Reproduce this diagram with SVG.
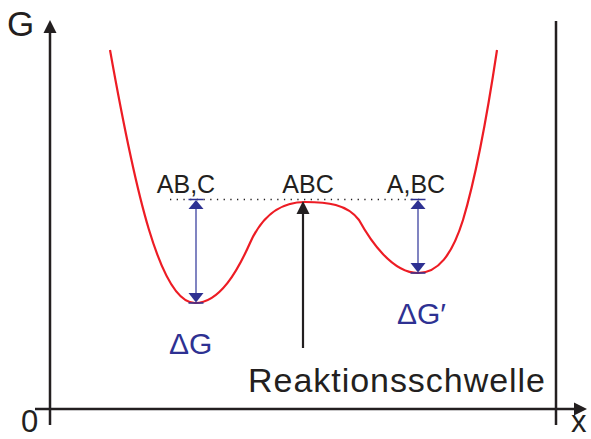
<svg xmlns="http://www.w3.org/2000/svg" width="591" height="439" viewBox="0 0 591 439">
<style>
.ax{stroke:#231f20;stroke-width:2.5;fill:none}
.t{font-family:"Liberation Sans",Arial,sans-serif;fill:#231f20}
.b{fill:#2e3192;font-family:"Liberation Sans",Arial,sans-serif}
.bl{stroke:#3d42a0;stroke-width:1.3;fill:none}
.bh{fill:#2e3192}
</style>
<rect width="591" height="439" fill="#fff"/>
<g id="axes">
<line class="ax" x1="50" y1="30" x2="50" y2="425"/>
<polygon points="50,20 43.5,33 56.5,33" fill="#231f20"/>
<line class="ax" x1="35" y1="409" x2="576" y2="409"/>
<polygon points="587,409 574,402.5 574,415.5" fill="#231f20"/>
<line class="ax" x1="556" y1="21" x2="556" y2="425"/>
</g>
<g id="curve">
<path d="M110,50 C135,190 160,303 195,303 C220,303 238,270 250,243 C262,216 280,202 305,202 C327,202 347,204 359,220 C370,240 392,273 418,273 C438,273 452,255 463,220 C472,190 485,130 497,50" fill="none" stroke="#ed1c24" stroke-width="2.2"/>
</g>
<g id="connectors">
<line x1="170" y1="199.5" x2="420" y2="199.5" stroke="#231f20" stroke-width="1.3" stroke-dasharray="1.3 5.4"/>
<g id="dG-arrow">
<line class="bl" x1="196" y1="206" x2="196" y2="297"/>
<line x1="188.5" y1="199.5" x2="203.5" y2="199.5" stroke="#2e3192" stroke-width="1.5"/>
<polygon class="bh" points="196,200 188.5,209 203.5,209"/>
<line x1="188.5" y1="303" x2="203.5" y2="303" stroke="#2e3192" stroke-width="1.5"/>
<polygon class="bh" points="196,302.5 188.5,293 203.5,293"/>
</g>
<g id="dG2-arrow">
<line class="bl" x1="418" y1="206" x2="418" y2="267"/>
<line x1="410.5" y1="199.5" x2="425.5" y2="199.5" stroke="#2e3192" stroke-width="1.5"/>
<polygon class="bh" points="418,200 410.5,209 425.5,209"/>
<line x1="410.5" y1="273" x2="425.5" y2="273" stroke="#2e3192" stroke-width="1.5"/>
<polygon class="bh" points="418,272.5 410.5,263 425.5,263"/>
</g>
<g id="barrier-arrow">
<line x1="303" y1="348" x2="303" y2="210" stroke="#231f20" stroke-width="2.2"/>
<polygon points="303,201 296.5,214 309.5,214" fill="#231f20"/>
</g>
</g>
<g id="labels">
<text class="t" x="7" y="36" font-size="35">G</text>
<text class="t" x="21" y="432" font-size="31">0</text>
<text class="t" x="571" y="432" font-size="31">x</text>
<text class="t" x="186" y="193" font-size="25" text-anchor="middle">AB,C</text>
<text class="t" x="308" y="193" font-size="25" text-anchor="middle">ABC</text>
<text class="t" x="416" y="193" font-size="25" text-anchor="middle">A,BC</text>
<text class="b" x="169" y="354" font-size="30">ΔG</text>
<text class="b" x="397" y="324" font-size="30">ΔG′</text>
<text class="t" x="248" y="392" font-size="34" textLength="297" lengthAdjust="spacing">Reaktionsschwelle</text>
</g>
</svg>
